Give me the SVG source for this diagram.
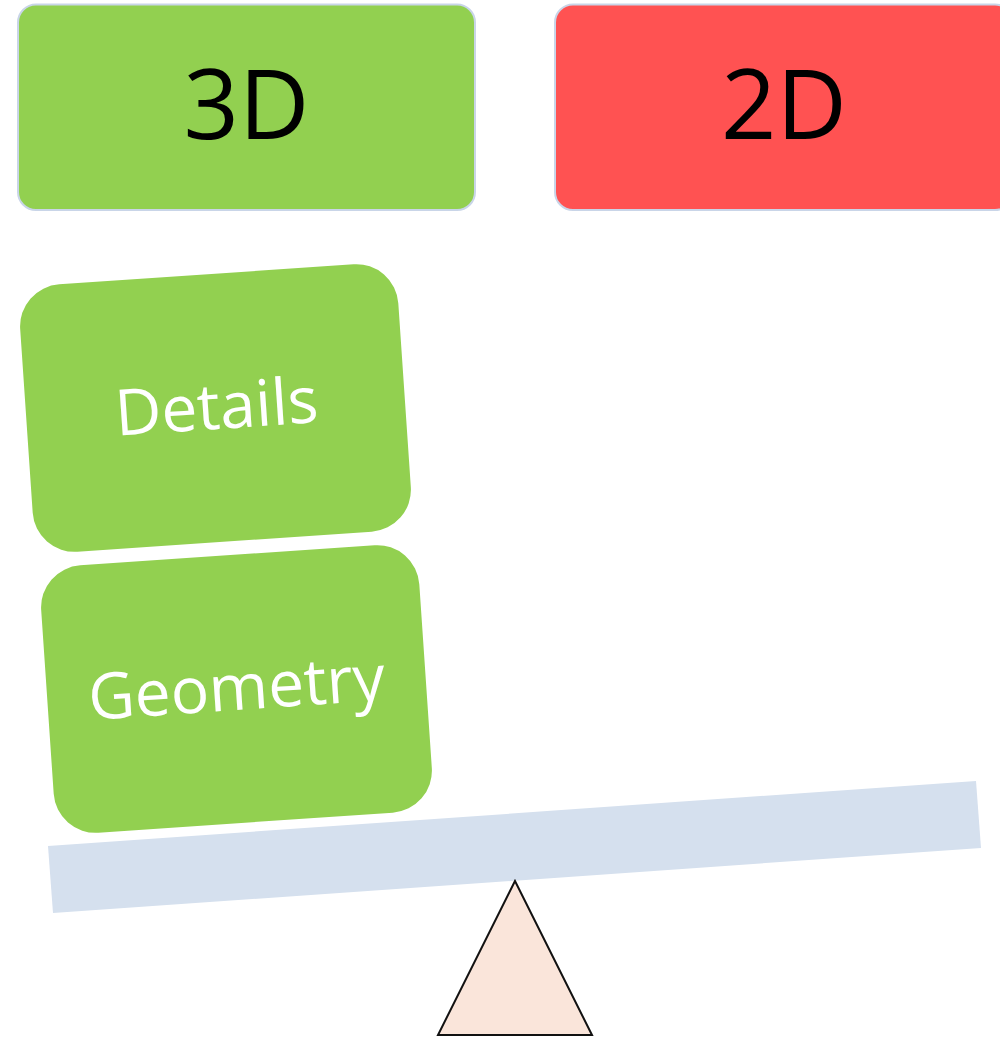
<svg xmlns="http://www.w3.org/2000/svg" width="1000" height="1037" viewBox="0 0 1000 1037">
  <style>
    .hdr { stroke: #C9D5E8; stroke-width: 2; }
    .hdrtxt { font-family: "Open Sans", "Liberation Sans", sans-serif; font-size: 97px; fill: #000000; text-anchor: middle; }
    .blk { fill: #92D050; }
    .blktxt { font-family: "Open Sans", "Liberation Sans", sans-serif; font-size: 64px; fill: #FFFFFF; text-anchor: middle; }
  </style>
  <rect width="1000" height="1037" fill="#FFFFFF"/>
  <g id="node-3d">
    <rect class="hdr" x="18" y="4.5" width="457" height="205.5" rx="18" fill="#92D050"/>
    <text class="hdrtxt" x="246.5" y="139">3D</text>
  </g>
  <g id="node-2d">
    <rect class="hdr" x="555" y="4.5" width="458" height="205.5" rx="18" fill="#FF5252"/>
    <text class="hdrtxt" x="784" y="139">2D</text>
  </g>
  <g id="node-details" transform="translate(215.5 408) rotate(-3.9)">
    <rect class="blk" x="-189.5" y="-134" width="379" height="268" rx="42"/>
    <text class="blktxt" x="1" y="21">Details</text>
  </g>
  <g id="node-geometry" transform="translate(236.5 689) rotate(-3.9)">
    <rect class="blk" x="-189.5" y="-134" width="379" height="268" rx="42"/>
    <text class="blktxt" x="0" y="21">Geometry</text>
  </g>
  <g id="node-beam">
    <polygon points="48,846 976,781 981,848 53,913" fill="#D5E0EE"/>
  </g>
  <g id="node-fulcrum">
    <polygon points="515,881 438,1035 592,1035" fill="#FAE5DA" stroke="#111111" stroke-width="2" stroke-linejoin="miter"/>
  </g>
  <g id="connectors"></g>
</svg>
